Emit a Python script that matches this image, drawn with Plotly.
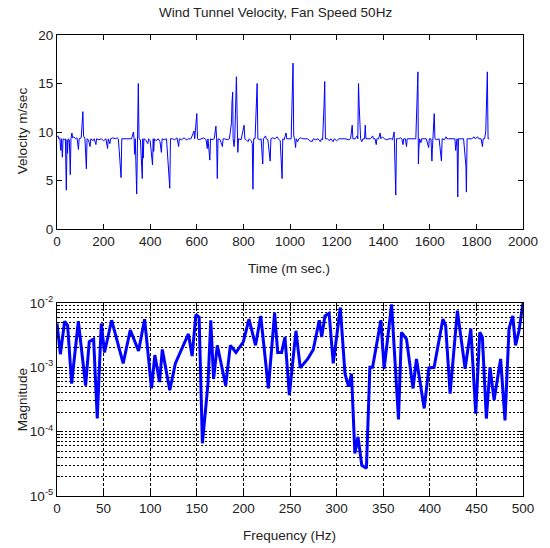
import plotly.graph_objects as go

# ---- Top panel: velocity time series ----
time_ms = [0, 4, 8, 12, 16, 19, 23, 26, 32, 36, 40, 43, 45, 48, 53, 57, 60, 64, 67, 72,
           80, 86, 92, 95, 104, 111, 114, 120, 126, 129, 135, 142, 145, 155, 160, 167, 170,
           180, 190, 200, 210, 217, 220, 227, 230, 240, 250, 258, 263, 267, 271, 275, 278,
           290, 300, 310, 320, 328, 331, 333, 336, 342, 345, 349, 352, 358, 366, 368, 370,
           373, 380, 390, 393, 400, 410, 413, 415, 418, 425, 435, 442, 448, 451, 460, 470,
           484, 487, 495, 505, 515, 522, 525, 535, 545, 555, 565, 575, 588, 591, 600, 603,
           610, 620, 630, 640, 645, 648, 656, 659, 665, 675, 682, 685, 688, 691, 700, 710,
           713, 720, 730, 740, 749, 751, 754, 756, 760, 763, 770, 773, 776, 779, 790, 803,
           806, 812, 820, 825, 833, 838, 841, 844, 850, 859, 862, 870, 876, 883, 886, 895,
           898, 905, 915, 918, 925, 935, 945, 950, 958, 966, 969, 975, 983, 986, 995, 1005,
           1013, 1016, 1020, 1024, 1027, 1033, 1038, 1045, 1055, 1065, 1075, 1085, 1095,
           1100, 1110, 1120, 1130, 1135, 1140, 1146, 1149, 1152, 1160, 1170, 1175, 1185,
           1190, 1200, 1210, 1220, 1230, 1240, 1250, 1260, 1267, 1270, 1280, 1288, 1291,
           1294, 1297, 1300, 1303, 1308, 1313, 1320, 1323, 1326, 1335, 1345, 1355, 1358,
           1365, 1370, 1373, 1380, 1387, 1390, 1397, 1405, 1415, 1425, 1435, 1440, 1447,
           1449, 1451, 1454, 1457, 1465, 1475, 1480, 1485, 1488, 1495, 1500, 1503, 1510,
           1520, 1530, 1540, 1549, 1551, 1553, 1556, 1562, 1565, 1575, 1585, 1595, 1598,
           1605, 1609, 1611, 1614, 1619, 1622, 1630, 1640, 1650, 1653, 1662, 1670, 1673,
           1680, 1690, 1700, 1708, 1711, 1714, 1717, 1720, 1723, 1730, 1740, 1745, 1755,
           1757, 1760, 1770, 1780, 1790, 1795, 1805, 1810, 1820, 1826, 1829, 1835, 1840,
           1844, 1847, 1850, 1855]
velocity = [9.5, 9.6, 9.3, 9.4, 8.1, 9.3, 7.4, 9.3, 9.2, 9.3, 4.0, 9.2, 7.8, 9.3, 9.2, 5.6, 9.3, 9.9, 9.4, 9.5,
            9.3, 9.4, 8.2, 9.3, 9.4, 12.1, 9.6, 9.3, 6.2, 9.3, 9.2, 8.5, 9.3, 9.1, 9.3, 8.7, 9.3,
            9.2, 9.3, 9.1, 9.3, 8.3, 9.3, 8.8, 9.3, 9.4, 9.3, 9.4, 9.3, 8.1, 6.3, 5.3, 9.3,
            9.3, 9.3, 9.3, 9.3, 10.0, 9.3, 7.7, 9.3, 3.6, 9.3, 15.0, 9.3, 9.2, 5.2, 9.3, 7.3,
            9.3, 9.2, 8.8, 9.3, 9.1, 6.6, 9.3, 8.0, 9.3, 9.1, 9.3, 9.0, 7.9, 9.3, 9.2, 9.3,
            4.2, 9.3, 9.3, 9.2, 9.4, 8.5, 9.3, 9.2, 9.4, 9.2, 9.3, 9.3, 10.1, 9.3, 11.9, 9.3,
            9.2, 9.3, 9.4, 9.2, 8.3, 9.3, 7.1, 9.3, 9.2, 9.3, 10.6, 9.3, 5.2, 9.3, 9.2, 8.5,
            9.3, 9.3, 9.2, 9.3, 11.0, 13.0, 14.1, 9.3, 8.5, 9.3, 15.7, 11.8, 7.9, 9.3, 9.2, 10.7,
            9.3, 9.2, 9.0, 9.3, 9.1, 8.8, 4.1, 9.3, 9.3, 15.0, 9.3, 9.2, 9.3, 6.7, 9.3, 9.6,
            9.3, 9.2, 7.0, 9.3, 9.4, 9.3, 9.5, 9.3, 9.1, 5.2, 9.3, 9.2, 9.9, 9.3, 9.3, 9.3,
            17.1, 9.6, 9.3, 8.4, 9.3, 9.0, 9.3, 9.4, 9.3, 9.3, 9.3, 9.1, 9.0,
            9.3, 9.2, 9.3, 9.0, 9.3, 9.2, 12.7, 15.2, 9.3, 9.3, 9.1, 9.3, 9.0,
            9.3, 9.1, 9.3, 9.3, 9.3, 9.3, 9.2, 9.3, 10.7, 9.3, 9.3, 9.6, 9.3,
            15.0, 12.7, 10.9, 9.3, 9.0, 9.3, 9.3, 10.7, 9.3, 9.3, 9.3, 9.6, 9.3,
            9.3, 8.7, 9.3, 9.3, 9.9, 9.3, 9.5, 9.3, 9.2, 9.3, 9.3, 9.2, 10.0,
            8.2, 4.9, 3.5, 9.3, 9.3, 9.4, 9.3, 8.7, 9.3, 9.3, 8.5, 9.3, 9.3,
            9.3, 9.3, 9.3, 16.2, 6.7, 8.2, 9.3, 8.9, 9.3, 9.3, 9.3, 8.4, 9.3,
            9.3, 7.0, 8.2, 9.3, 11.9, 9.3, 9.2, 9.3, 7.0, 9.3, 9.2, 9.5, 9.3,
            9.3, 9.3, 9.3, 9.3, 8.1, 9.3, 9.3, 3.3, 9.3, 9.3, 9.3, 9.3, 6.5,
            3.8, 9.3, 9.3, 9.3, 9.5, 9.3, 9.5, 9.3, 9.3, 8.5, 9.3, 9.3, 10.0,
            14.3, 16.2, 9.3, 9.3]

# ---- Bottom panel: spectrum magnitude ----
freq_hz = [0, 3.6, 8.2, 11.4, 15.7, 22.9, 30.7, 34.6, 39.3, 43.2, 47.5, 51, 58.6, 71, 78.6,
           87.5, 94, 101.4, 105, 110, 113, 121, 127, 133, 141, 145, 149, 152.5, 156, 162,
           165, 168, 172, 181, 186, 192, 200, 206, 213, 218.6, 226.8, 233.5, 236.8, 241,
           244.6, 249.3, 256.4, 261, 269, 275, 281.4, 284, 287.5, 292, 296.4, 304, 309,
           312.9, 316, 319.6, 323, 327, 332, 335.7, 338.6, 347.5, 351, 359, 366.4, 369.6,
           375, 382, 385.7, 394, 399, 404.6, 408, 414, 417, 421.8, 429.6, 437.9, 444,
           449.3, 453.6, 456.4, 460.7, 464.6, 469, 476, 480.7, 485, 489, 492, 495.7, 500]
magnitude = [4.8e-3, 1.6e-3, 5.2e-3, 4.5e-3, 5.6e-4, 5.2e-3, 5.2e-4, 2.5e-3, 2.75e-3, 1.6e-4,
             4.8e-3, 1.7e-3, 5.4e-3, 1.15e-3, 3.8e-3, 1.8e-3, 5.6e-3, 4.7e-4, 1.55e-3, 5.9e-4,
             1.9e-3, 4.4e-4, 1.15e-3, 1.8e-3, 3.3e-3, 1.5e-3, 6.6e-3, 6.0e-3, 6.6e-5, 5.6e-4,
             5.4e-3, 6.6e-4, 2.2e-3, 5.2e-4, 2.2e-3, 1.7e-3, 2.5e-3, 5.6e-3, 2.2e-3, 6.3e-3,
             4.7e-4, 7.1e-3, 1.7e-3, 1.7e-3, 2.95e-3, 3.7e-4, 3.7e-3, 9.8e-4, 1.35e-3, 1.9e-3,
             5.4e-3, 2.95e-3, 6.3e-3, 6.9e-3, 1.15e-3, 8.5e-3, 7.9e-4, 5.0e-4, 7.9e-4, 4.6e-5,
             8.3e-5, 3.0e-5, 2.7e-5, 1.0e-3, 1.0e-3, 5.4e-3, 9.5e-4, 9.5e-3, 1.55e-4, 3.5e-3,
             2.75e-3, 4.7e-4, 1.35e-3, 2.3e-4, 9.8e-4, 1.0e-3, 1.8e-3, 5.6e-3, 4.5e-3, 3.9e-4,
             7.6e-3, 9.5e-4, 4.0e-3, 1.9e-4, 3.5e-3, 2.95e-3, 1.6e-4, 1.0e-3, 3.1e-4, 1.35e-3,
             1.5e-4, 4.0e-3, 6.3e-3, 2.2e-3, 3.7e-3, 1.0e-2]

time_ticks = [0, 200, 400, 600, 800, 1000, 1200, 1400, 1600, 1800, 2000]
vel_ticks = [0, 5, 10, 15, 20]
freq_ticks = [0, 50, 100, 150, 200, 250, 300, 350, 400, 450, 500]
decades = [1e-5, 1e-4, 1e-3, 1e-2]
decade_labels = ["10<sup>-5</sup>", "10<sup>-4</sup>", "10<sup>-3</sup>", "10<sup>-2</sup>"]
minor_multiples = [2, 3, 4, 5, 6, 7, 8, 9]

# minor log grid values: 2..9 multiples of each decade below the top
log_minor_vals = [m * d for d in decades[:-1] for m in minor_multiples]

FONT = "Liberation Sans, Arial, sans-serif"
W, H = 550, 548
L, R, T, B = 57, 25, 35, 52
plot_h = H - T - B
top_dom = [(H - B - 229) / plot_h, 1.0]
bot_dom = [0.0, (H - B - 303) / plot_h]

fig = go.Figure()
fig.add_trace(go.Scatter(x=time_ms, y=velocity, mode="lines",
                         line=dict(color="#0000ff", width=1),
                         xaxis="x", yaxis="y", showlegend=False, hoverinfo="skip"))
fig.add_trace(go.Scatter(x=freq_hz, y=magnitude, mode="lines",
                         line=dict(color="#0000ff", width=3),
                         xaxis="x2", yaxis="y2", showlegend=False, hoverinfo="skip"))

axis_common = dict(showline=True, linecolor="black", linewidth=1, mirror="allticks",
                   ticks="inside", ticklen=5, tickcolor="black", zeroline=False,
                   tickfont=dict(family=FONT, size=13.5, color="#222222"))

fig.update_layout(
    width=W, height=H,
    margin=dict(l=L, r=R, t=T, b=B),
    paper_bgcolor="white", plot_bgcolor="white",
    font=dict(family=FONT, size=13, color="black"),
    xaxis=dict(domain=[0, 1], anchor="y", range=[0, 2000], tickvals=time_ticks,
               showgrid=False, **axis_common),
    yaxis=dict(domain=top_dom, anchor="x", range=[0, 20], tickvals=vel_ticks,
               showgrid=False, **axis_common),
    xaxis2=dict(domain=[0, 1], anchor="y2", range=[0, 500], tickvals=freq_ticks,
                showgrid=True, gridcolor="black", gridwidth=1, griddash="3px,2px",
                **axis_common),
    yaxis2=dict(domain=bot_dom, anchor="x2", type="log", range=[-5, -2],
                tickvals=decades, ticktext=decade_labels,
                showgrid=True, gridcolor="black", gridwidth=1, griddash="2px,2px",
                minor=dict(tickmode="array", tickvals=log_minor_vals, ticks="inside",
                           ticklen=3, tickcolor="black", showgrid=True,
                           gridcolor="black", gridwidth=1, griddash="2px,2px"),
                **axis_common),
)

def px_to_paper_y(py):
    return (H - B - py) / plot_h

def px_to_paper_x(px):
    return (px - L) / (W - L - R)

annots = [
    dict(text="Wind Tunnel Velocity, Fan Speed 50Hz", x=px_to_paper_x(276), y=px_to_paper_y(13)),
    dict(text="Time (m sec.)", x=px_to_paper_x(290), y=px_to_paper_y(268)),
    dict(text="Frequency (Hz)", x=px_to_paper_x(290), y=px_to_paper_y(535)),
    dict(text="Velocity m/sec", x=px_to_paper_x(22), y=px_to_paper_y(131), textangle=-90),
    dict(text="Magnitude", x=px_to_paper_x(22), y=px_to_paper_y(400), textangle=-90),
]
for a in annots:
    fig.add_annotation(xref="paper", yref="paper", showarrow=False,
                       xanchor="center", yanchor="middle",
                       font=dict(family=FONT, size=13.5, color="#222222"), **a)

fig.write_html("out.html", config={"displayModeBar": False},
               post_script="document.body.style.margin='0';document.body.style.overflow='hidden';")
